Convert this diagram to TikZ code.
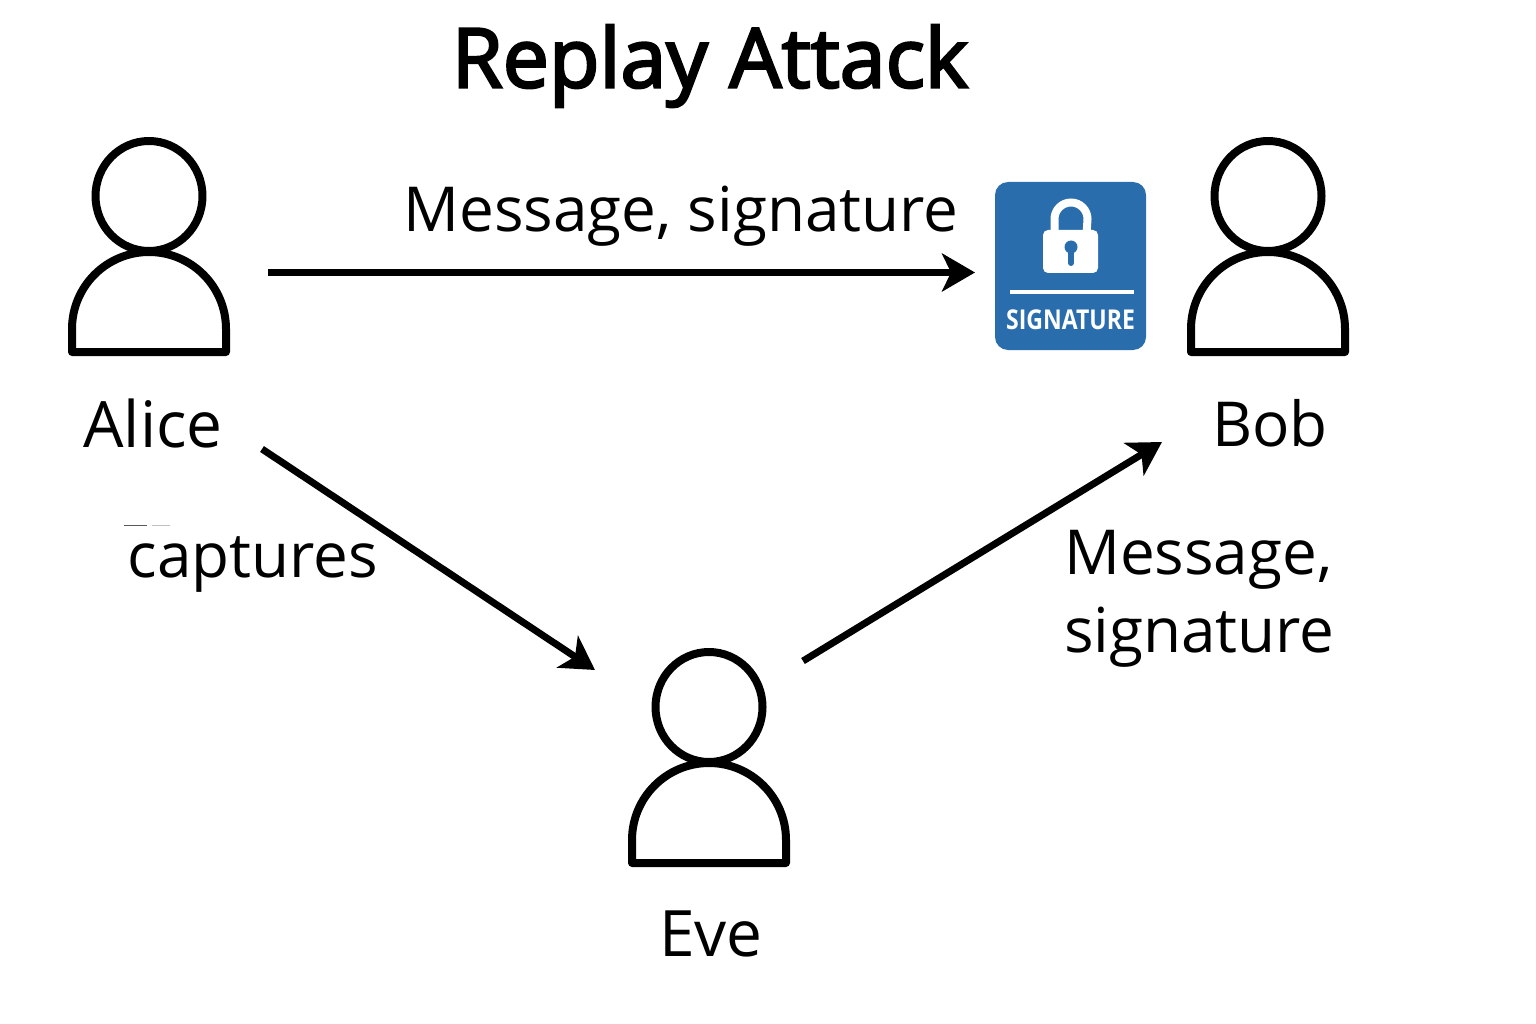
\documentclass[tikz,border=0pt]{standalone}
\usepackage{fontspec}
\setmainfont{Open Sans}
\newfontfamily\titlefont[FakeBold=3]{Open Sans}
\usetikzlibrary{arrows.meta,positioning}

\definecolor{sigblue}{HTML}{2A6DAD}

\tikzset{
	x=1pt, y=-1pt,
	outline/.style={draw=black, line width=8pt, line join=round},
	conn/.style={draw=black, line width=7pt, -{Stealth[length=33pt,width=38pt,inset=9pt]}},
	lbl/.style={inner sep=0pt, outer sep=0pt, font=\fontsize{62}{78}\selectfont, align=left},
	bigname/.style={lbl, font=\fontsize{64}{78}\selectfont},
	person/.pic={
		\draw[outline] (0,-53) ellipse[x radius=53.5, y radius=55];
		\draw[outline] (-77,103) -- (-77,80) arc[start angle=180, end angle=0, x radius=77, y radius=-77] -- (77,103) -- cycle;
	}
}

\begin{document}
\begin{tikzpicture}
	\useasboundingbox (0,0) rectangle (1536,1024);

	% people
	\pic at (149,249) {person};
	\pic at (1268,249) {person};
	\pic at (709,760) {person};

	\node[bigname] (alice) at (153,423) {Alice};
	\node[lbl] (bob) at (1270,423) {Bob};
	\node[bigname] (eve) at (711,934) {Eve};

	\node[font=\fontsize{82.5}{96}\selectfont\titlefont] (title) at (710,66) {Replay Attack};

	% signature badge
	\node[fill=sigblue, rounded corners=13pt, minimum width=151pt, minimum height=168pt, inner sep=0pt] (badge) at (1070.5,266) {};
	\draw[white, line width=8pt] (1054.5,235) -- (1054.5,219) arc[start angle=180, end angle=0, x radius=16.5, y radius=-16.5] -- (1086.5,235);
	\fill[white, rounded corners=5pt] (1043,230) rectangle (1098,273);
	\fill[sigblue] (1071,247) circle (6.5);
	\draw[sigblue, line width=6pt, line cap=round] (1071,247) -- (1071,263);
	\fill[white] (1010,290) rectangle (1134,294);
	\node[white, font=\fontsize{26}{30}\selectfont\bfseries] (sigtext) at (1070.5,320) {\scalebox{0.885}[1.05]{SIGNATURE}};

	% connectors
	\coordinate (aliceout) at (268,272.5);
	\coordinate (badgein) at (975,272.5);
	\coordinate (alicedown) at (262,449);
	\coordinate (evein) at (595,670);
	\coordinate (eveout) at (803,661);
	\coordinate (bobin) at (1162,442);

	\draw[conn] (aliceout) -- (badgein);
	\draw[conn] (alicedown) -- (evein);
	\draw[conn] (eveout) -- (bobin);

	\node[lbl] (msgtop) at (681,216) {Message, signature};
	\node[lbl] (captures) at (253,565) {captures};
	\node[lbl, anchor=west] (msgright) at (1064,599) {Message,\\signature};

	% stray marks above the label
	\draw[black!65, line width=1pt] (124,525) -- (147,525);
	\draw[black!25, line width=1pt] (152,525) -- (170,525);
\end{tikzpicture}
\end{document}
